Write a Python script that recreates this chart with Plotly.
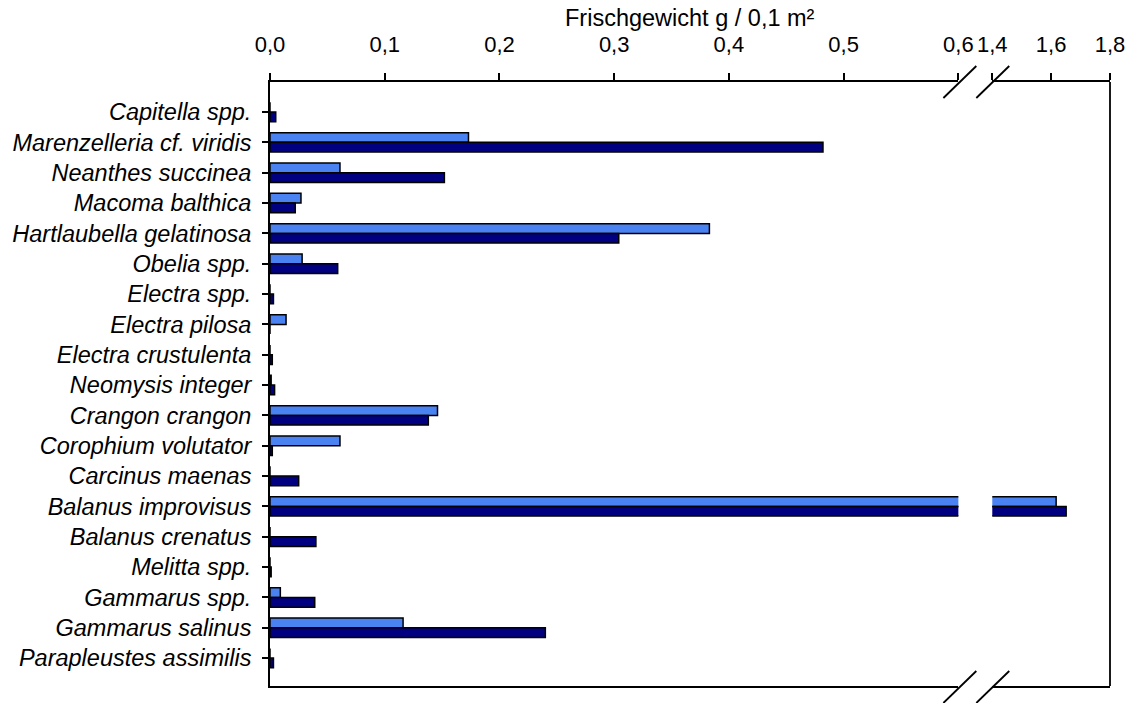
import plotly.graph_objects as go

# Species (top to bottom) and fresh weight per 0.1 m² for the two samples
species = [
    "Capitella spp.", "Marenzelleria cf. viridis", "Neanthes succinea",
    "Macoma balthica", "Hartlaubella gelatinosa", "Obelia spp.",
    "Electra spp.", "Electra pilosa", "Electra crustulenta",
    "Neomysis integer", "Crangon crangon", "Corophium volutator",
    "Carcinus maenas", "Balanus improvisus", "Balanus crenatus",
    "Melitta spp.", "Gammarus spp.", "Gammarus salinus",
    "Parapleustes assimilis",
]
series_light = [0.0, 0.173, 0.061, 0.027, 0.383, 0.028, 0.0, 0.014, 0.0,
                0.001, 0.146, 0.061, 0.0, 1.617, 0.0, 0.0, 0.009, 0.116, 0.0]
series_dark = [0.005, 0.482, 0.152, 0.022, 0.304, 0.059, 0.003, 0.0, 0.002,
               0.004, 0.138, 0.002, 0.025, 1.651, 0.040, 0.001, 0.039, 0.240, 0.003]

left_ticks = [0.0, 0.1, 0.2, 0.3, 0.4, 0.5, 0.6]
right_ticks = [1.4, 1.6, 1.8]

LIGHT = "#4a82f2"
DARK = "#000080"
FONT = "Liberation Sans, Arial, sans-serif"

W, H = 1137, 703
ML, MR, MT, MB = 269, 26, 82, 17
PW, PH = W - ML - MR, H - MT - MB

def px_x(px):
    return (px - ML) / PW

def px_y(py):
    return (H - MB - py) / PH

left_dom = [0, px_x(959)]
right_dom = [px_x(993), 1]

fig = go.Figure()
for xa in ("x", "x2"):
    fig.add_trace(go.Bar(y=species, x=series_light, orientation="h",
                         marker=dict(color=LIGHT, line=dict(color="black", width=1.5)),
                         xaxis=xa, yaxis="y", showlegend=False))
    fig.add_trace(go.Bar(y=species, x=series_dark, orientation="h",
                         marker=dict(color=DARK, line=dict(color="black", width=1.5)),
                         xaxis=xa, yaxis="y", showlegend=False))

tickfont = dict(family=FONT, size=22, color="black")
common_x = dict(side="top", anchor="y", showline=True, linecolor="black", linewidth=1.8,
                mirror=True, ticks="outside", ticklen=7, tickcolor="black", tickwidth=1.8,
                ticklabelstandoff=12,
                showgrid=False, zeroline=False, tickformat=".1f", tickfont=tickfont)

fig.update_layout(
    width=W, height=H,
    margin=dict(l=ML, r=MR, t=MT, b=MB),
    paper_bgcolor="white", plot_bgcolor="white",
    separators=",.",
    barmode="group", bargap=0.36, bargroupgap=0.0,
    xaxis=dict(domain=left_dom, range=[0, 0.6], tickvals=left_ticks, **common_x),
    xaxis2=dict(domain=right_dom, range=[1.4, 1.8], tickvals=right_ticks, **common_x),
    yaxis=dict(anchor="x", autorange=False, range=[18.92, -0.99],
               showline=True, linecolor="black", linewidth=1.8,
               ticks="outside", ticklen=6, tickcolor="black", tickwidth=1.8,
               ticklabelstandoff=6,
               tickfont=dict(family=FONT, size=23.5, color="black", style="italic"),
               showgrid=False, zeroline=False),
    annotations=[dict(text="Frischgewicht g / 0,1 m²", xref="paper", yref="paper",
                      x=0.5, y=px_y(18), xanchor="center", yanchor="middle",
                      showarrow=False,
                      font=dict(family=FONT, size=23.5, color="black"))],
)

shapes = []
# right border of the frame
shapes.append(dict(type="line", xref="paper", yref="paper", x0=1, x1=1, y0=0, y1=1,
                   line=dict(color="black", width=1.8)))
# axis-break slashes on the top and bottom frame lines
for yc in (82, 687):
    for x_lo in (944, 977):
        shapes.append(dict(type="line", xref="paper", yref="paper",
                           x0=px_x(x_lo), y0=px_y(yc + 16),
                           x1=px_x(x_lo + 33), y1=px_y(yc - 16),
                           line=dict(color="black", width=1.8)))
fig.update_layout(shapes=shapes)

fig.write_html("out.html")
